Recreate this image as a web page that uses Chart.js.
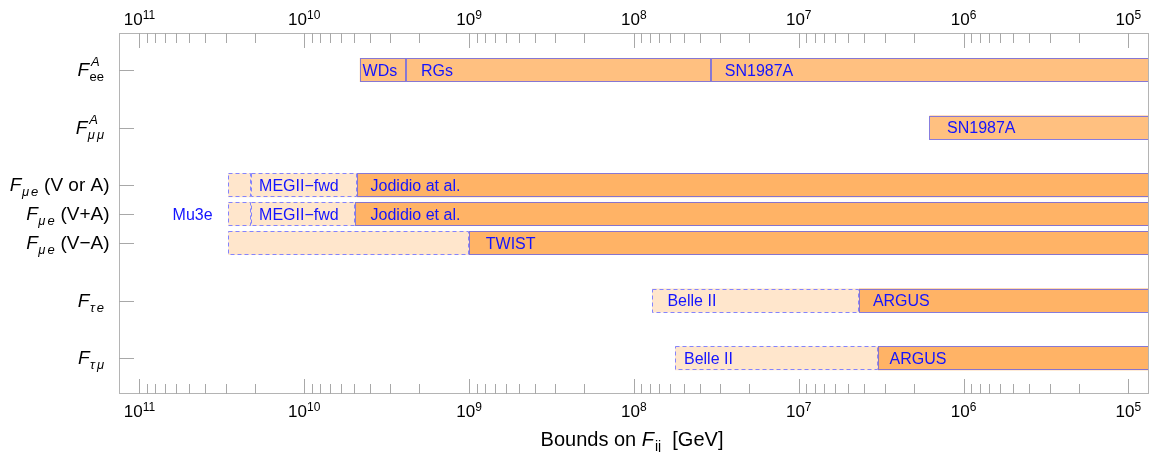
<!DOCTYPE html>
<html>
<head>
<meta charset="utf-8">
<script src="https://cdn.jsdelivr.net/npm/chart.js@4.4.1/dist/chart.umd.min.js"></script>
<style>
html,body{margin:0;padding:0;background:#ffffff;}
#wrap{width:1153px;height:452px;position:relative;}
</style>
</head>
<body>
<div id="wrap"><canvas id="c"></canvas></div>
<script>
// ---------------- data ----------------
// y categories (empty strings are spacer rows)
const categories = ['F_ee^A', '', 'F_μμ^A', '', 'F_μe (V or A)', 'F_μe (V+A)', 'F_μe (V−A)', '', 'F_τe', '', 'F_τμ'];
const labelSub    = ['ee', '', 'μμ', '', 'μe', 'μe', 'μe', '', 'τe', '', 'τμ'];
const labelSubIt  = [false, false, true, false, true, true, true, false, true, false, true];
const labelSup    = ['A', '', 'A', '', '', '', '', '', '', '', ''];
const labelSuffix = ['', '', '', '', ' (V or A)', ' (V+A)', ' (V−A)', '', '', '', ''];

// x axis (GeV, log, reversed)
const xAxisMax = 1.33e11;
const xAxisMin = 7.5e4;
const tickExponents = [5, 6, 7, 8, 9, 10, 11];
const minorMultipliers = [2, 3, 4, 5, 6, 7, 8, 9];

// astrophysical bounds (solid)
const astroRows = ['F_ee^A', 'F_ee^A', 'F_ee^A', 'F_μμ^A'];
const astroFrom = [4.6e9, 2.4e9, 3.39e7, 1.61e6];
const astroTo   = [2.4e9, 3.39e7, xAxisMin, xAxisMin];

// laboratory bounds (solid)
const labRows = ['F_μe (V or A)', 'F_μe (V+A)', 'F_μe (V−A)', 'F_τe', 'F_τμ'];
const labFrom = [4.78e9, 4.89e9, 1.0e9, 4.31e6, 3.31e6];
const labTo   = [xAxisMin, xAxisMin, xAxisMin, xAxisMin, xAxisMin];

// projected sensitivities (dashed)
const projRows = ['F_μe (V or A)', 'F_μe (V or A)', 'F_μe (V+A)', 'F_μe (V+A)', 'F_μe (V−A)', 'F_τe', 'F_τμ'];
const projFrom = [2.89e10, 2.1e10, 2.89e10, 2.1e10, 2.89e10, 7.77e7, 5.63e7];
const projTo   = [2.1e10, 4.78e9, 2.1e10, 4.89e9, 1.0e9, 4.31e6, 3.31e6];

// text annotations
const textRows = ['F_ee^A', 'F_ee^A', 'F_ee^A', 'F_μμ^A', 'F_μe (V or A)', 'F_μe (V or A)', 'F_μe (V+A)', 'F_μe (V+A)', 'F_μe (V+A)', 'F_μe (V−A)', 'F_τe', 'F_τe', 'F_τμ', 'F_τμ'];
const textStrings = ['WDs', 'RGs', 'SN1987A', 'SN1987A', 'MEGII−fwd', 'Jodidio at al.', 'Mu3e', 'MEGII−fwd', 'Jodidio et al.', 'TWIST', 'Belle II', 'ARGUS', 'Belle II', 'ARGUS'];
const textAt = [4.43e9, 1.96e9, 2.81e7, 1.26e6, 1.88e10, 3.96e9, 6.29e10, 1.88e10, 3.96e9, 7.92e8, 6.26e7, 3.55e6, 4.97e7, 2.81e6];

const axisTitle = ['Bounds on ', 'F', 'ij', '  [GeV]'];

// ---------------- build ----------------
const FONT = "'Liberation Sans', Arial, Helvetica, sans-serif";
const rowIndex = name => categories.indexOf(name);
const toData = (rows, from, to) => rows.map((r, i) => ({ y: rowIndex(r), x: [from[i], to[i]] }));

const decorPlugin = {
  id: 'decor',
  afterDatasetDraw(chart, args) {
    const ds = chart.data.datasets[args.index];
    const ctx = chart.ctx, area = chart.chartArea;
    ctx.save();
    ctx.beginPath();
    ctx.rect(area.left, area.top, area.width, area.height);
    ctx.clip();
    ctx.lineWidth = 1;
    ctx.strokeStyle = ds.outlineColor;
    ctx.setLineDash(ds.outlineDash || []);
    args.meta.data.forEach(el => {
      const p = el.getProps(['x', 'y', 'base', 'height'], true);
      const l = Math.round(Math.min(p.x, p.base)), r = Math.round(Math.max(p.x, p.base));
      const t = Math.round(p.y - p.height / 2), b = Math.round(p.y + p.height / 2);
      ctx.strokeRect(l + 0.5, t + 0.5, r - l - 1, b - t - 1);
    });
    ctx.restore();
  },
  afterDatasetsDraw(chart) {
    const ctx = chart.ctx, area = chart.chartArea;
    const xs = chart.scales.x, ys = chart.scales.y;
    ctx.save();
    ctx.setLineDash([]);
    // frame
    ctx.strokeStyle = '#b4b4b4';
    ctx.lineWidth = 1;
    ctx.strokeRect(area.left + 0.5, area.top + 0.5, area.width - 1, area.height - 1);
    // x ticks (inside, top and bottom)
    ctx.strokeStyle = '#a8a8a8';
    const drawXTick = (v, len) => {
      const px = Math.round(xs.getPixelForValue(v)) + 0.5;
      ctx.beginPath();
      ctx.moveTo(px, area.top); ctx.lineTo(px, area.top + len);
      ctx.moveTo(px, area.bottom); ctx.lineTo(px, area.bottom - len);
      ctx.stroke();
    };
    const lo = Math.pow(10, tickExponents[0]);
    const hi = Math.pow(10, tickExponents[tickExponents.length - 1]);
    tickExponents.forEach(e => {
      drawXTick(Math.pow(10, e), 15);
      minorMultipliers.forEach(m => {
        const v = m * Math.pow(10, e);
        if (v > lo && v < hi) drawXTick(v, 10);
      });
    });
    // y ticks (left, inside)
    categories.forEach((c, i) => {
      if (!c) return;
      const py = Math.round(ys.getPixelForValue(i)) + 0.5;
      ctx.beginPath();
      ctx.moveTo(area.left, py); ctx.lineTo(area.left + 15, py);
      ctx.stroke();
    });
    // x tick labels
    ctx.fillStyle = '#000';
    ctx.textBaseline = 'alphabetic';
    ctx.textAlign = 'left';
    tickExponents.forEach(e => {
      const px = xs.getPixelForValue(Math.pow(10, e));
      ctx.font = '17px ' + FONT;
      const w1 = ctx.measureText('10').width;
      ctx.font = '12px ' + FONT;
      const w2 = ctx.measureText(String(e)).width;
      const x0 = px - (w1 + w2) / 2;
      [area.top - 8, area.bottom + 23].forEach(by => {
        ctx.font = '17px ' + FONT;
        ctx.fillText('10', x0, by);
        ctx.font = '12px ' + FONT;
        ctx.fillText(String(e), x0 + w1, by - 6);
      });
    });
    // y labels
    categories.forEach((c, i) => {
      if (!c) return;
      const py = ys.getPixelForValue(i) + 6;
      const fMain = 'italic 19px ' + FONT;
      const fScriptIt = 'italic 13px ' + FONT;
      const fScript = '13px ' + FONT;
      ctx.font = fMain;
      const wF = ctx.measureText('F').width;
      const subFont = labelSubIt[i] ? fScriptIt : fScript;
      ctx.font = subFont;
      const chars = Array.from(labelSub[i]);
      const gap = labelSubIt[i] ? 2 : 0;
      let subW = 0;
      chars.forEach((ch, k) => { subW += ctx.measureText(ch).width + (k < chars.length - 1 ? gap : 0); });
      ctx.font = fScriptIt;
      const supW = labelSup[i] ? ctx.measureText(labelSup[i]).width + 2 : 0;
      const scriptW = Math.max(subW, supW);
      ctx.font = '19px ' + FONT;
      const sufW = labelSuffix[i] ? ctx.measureText(labelSuffix[i]).width : 0;
      const rightX = labelSuffix[i] ? area.left - 9.5 : area.left - 14.5;
      const x0 = rightX - (wF + 1 + scriptW + sufW);
      ctx.font = fMain;
      ctx.fillText('F', x0, py);
      ctx.font = subFont;
      let sx = x0 + wF + 0.5;
      chars.forEach(ch => { ctx.fillText(ch, sx, py + 5); sx += ctx.measureText(ch).width + gap; });
      if (labelSup[i]) {
        ctx.font = fScriptIt;
        ctx.fillText(labelSup[i], x0 + wF + 2, py - 10);
      }
      if (labelSuffix[i]) {
        ctx.font = '19px ' + FONT;
        ctx.fillText(labelSuffix[i], x0 + wF + 1 + scriptW, py);
      }
    });
    // axis title
    {
      const fonts = ['20px ' + FONT, 'italic 20px ' + FONT, '14px ' + FONT, '20px ' + FONT];
      const ws = axisTitle.map((t, k) => { ctx.font = fonts[k]; return ctx.measureText(t).width; });
      const total = ws.reduce((a, b) => a + b, 0) + 1;
      let tx = (area.left + area.right) / 2 - total / 2 - 2;
      const by = area.bottom + 52;
      axisTitle.forEach((t, k) => {
        ctx.font = fonts[k];
        ctx.fillText(t, tx, k === 2 ? by + 5 : by);
        tx += ws[k] + (k === 1 ? 1 : 0);
      });
    }
    // bar annotations
    ctx.fillStyle = '#1414ff';
    ctx.font = '16px ' + FONT;
    textStrings.forEach((t, k) => {
      const px = xs.getPixelForValue(textAt[k]);
      const py = ys.getPixelForValue(rowIndex(textRows[k])) + 5.7;
      ctx.fillText(t, px, py);
    });
    ctx.restore();
  }
};

new Chart(document.getElementById('c'), {
  type: 'bar',
  data: {
    datasets: [
      { label: 'projected', data: toData(projRows, projFrom, projTo), backgroundColor: '#ffe6cc',
        order: 3, outlineColor: 'rgba(125,125,255,0.95)', outlineDash: [4, 3] },
      { label: 'laboratory', data: toData(labRows, labFrom, labTo), backgroundColor: '#ffb366',
        order: 2, outlineColor: 'rgba(105,100,230,0.8)' },
      { label: 'astrophysics', data: toData(astroRows, astroFrom, astroTo), backgroundColor: '#ffc080',
        order: 1, outlineColor: 'rgba(105,100,230,0.8)' }
    ]
  },
  options: {
    indexAxis: 'y',
    responsive: true,
    maintainAspectRatio: false,
    animation: false,
    layout: { padding: { left: 119, right: 4, top: 33, bottom: 58 } },
    datasets: { bar: { grouped: false, categoryPercentage: 1, barPercentage: 0.833, borderSkipped: false, borderWidth: 0 } },
    scales: {
      x: { type: 'logarithmic', reverse: true, min: xAxisMin, max: xAxisMax, display: false, offset: false },
      y: { type: 'linear', reverse: true, min: -1.28, max: 11.24, bounds: 'data', display: false,
           offset: false, grid: { offset: false },
           afterBuildTicks: scale => { scale.ticks = categories.map((c, i) => ({ value: i })); } }
    },
    plugins: { legend: { display: false }, tooltip: { enabled: false } }
  },
  plugins: [decorPlugin]
});
</script>
</body>
</html>
